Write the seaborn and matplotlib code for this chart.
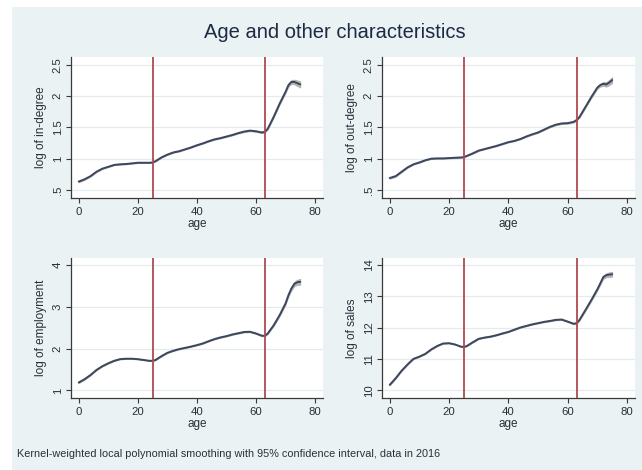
import seaborn as sns
import pandas as pd
import matplotlib.pyplot as plt
from matplotlib.patches import Rectangle

# values (smoothed curve, 95% CI half-width)
ages = [0, 2, 4, 6, 8, 10, 12, 14, 16, 18, 20, 22, 24, 25, 26, 28, 30, 32, 34, 36, 38,
        40, 42, 44, 46, 48, 50, 52, 54, 56, 58, 60, 62, 63, 64, 66, 68, 70, 71, 72, 73, 74, 75]

in_degree = [0.633, 0.67, 0.72, 0.79, 0.84, 0.87, 0.90, 0.91, 0.915, 0.925, 0.935, 0.935, 0.935,
             0.94, 0.96, 1.02, 1.065, 1.10, 1.12, 1.15, 1.18, 1.215, 1.245, 1.28, 1.31, 1.33,
             1.355, 1.38, 1.41, 1.435, 1.45, 1.44, 1.42, 1.43, 1.48, 1.67, 1.88, 2.07, 2.18,
             2.23, 2.23, 2.21, 2.19]
in_degree_ci = [0.012, 0.01, 0.008, 0.007, 0.006, 0.006, 0.006, 0.006, 0.006, 0.006, 0.006, 0.006, 0.006,
                0.006, 0.006, 0.006, 0.006, 0.006, 0.006, 0.006, 0.006, 0.006, 0.006, 0.007, 0.007, 0.007,
                0.007, 0.008, 0.008, 0.009, 0.01, 0.01, 0.011, 0.012, 0.012, 0.014, 0.016, 0.02, 0.025,
                0.032, 0.038, 0.044, 0.05]

out_degree = [0.69, 0.72, 0.79, 0.86, 0.91, 0.94, 0.975, 1.0, 1.005, 1.005, 1.01, 1.015, 1.02,
              1.025, 1.045, 1.085, 1.13, 1.155, 1.18, 1.205, 1.235, 1.265, 1.285, 1.315, 1.355, 1.39,
              1.42, 1.465, 1.51, 1.545, 1.565, 1.57, 1.59, 1.62, 1.67, 1.83, 1.99, 2.14, 2.18,
              2.20, 2.19, 2.22, 2.26]
out_degree_ci = [0.012, 0.01, 0.008, 0.007, 0.006, 0.006, 0.006, 0.006, 0.006, 0.006, 0.006, 0.006, 0.006,
                 0.006, 0.006, 0.006, 0.006, 0.006, 0.006, 0.006, 0.006, 0.006, 0.006, 0.007, 0.007, 0.007,
                 0.007, 0.008, 0.008, 0.009, 0.01, 0.01, 0.011, 0.012, 0.012, 0.014, 0.016, 0.02, 0.025,
                 0.03, 0.036, 0.042, 0.048]

employment = [1.19, 1.27, 1.37, 1.49, 1.58, 1.65, 1.71, 1.75, 1.76, 1.76, 1.75, 1.73, 1.71,
              1.71, 1.73, 1.82, 1.90, 1.95, 1.99, 2.02, 2.05, 2.085, 2.125, 2.18, 2.23, 2.27,
              2.30, 2.34, 2.37, 2.40, 2.405, 2.365, 2.31, 2.31, 2.365, 2.56, 2.80, 3.08, 3.28,
              3.44, 3.55, 3.59, 3.60]
employment_ci = [0.015, 0.012, 0.01, 0.009, 0.008, 0.008, 0.008, 0.008, 0.008, 0.008, 0.008, 0.008, 0.008,
                 0.008, 0.008, 0.008, 0.008, 0.008, 0.008, 0.008, 0.008, 0.008, 0.009, 0.009, 0.009, 0.01,
                 0.01, 0.01, 0.011, 0.012, 0.013, 0.014, 0.015, 0.016, 0.017, 0.02, 0.024, 0.03, 0.036,
                 0.045, 0.055, 0.062, 0.07]

sales = [10.17, 10.38, 10.62, 10.82, 11.0, 11.07, 11.16, 11.30, 11.41, 11.49, 11.50, 11.46, 11.39,
         11.38, 11.41, 11.53, 11.64, 11.68, 11.71, 11.755, 11.81, 11.86, 11.93, 12.0, 12.05, 12.10,
         12.14, 12.18, 12.21, 12.245, 12.255, 12.19, 12.12, 12.14, 12.245, 12.56, 12.88, 13.22, 13.41,
         13.61, 13.67, 13.69, 13.70]
sales_ci = [0.02, 0.016, 0.013, 0.012, 0.011, 0.01, 0.01, 0.01, 0.01, 0.01, 0.01, 0.01, 0.01,
            0.01, 0.01, 0.01, 0.01, 0.01, 0.01, 0.01, 0.01, 0.01, 0.011, 0.011, 0.011, 0.012,
            0.012, 0.013, 0.014, 0.015, 0.016, 0.017, 0.019, 0.02, 0.021, 0.025, 0.03, 0.038, 0.045,
            0.055, 0.065, 0.072, 0.08]

cutoffs = [25, 63]

panels = [
    ('log of in-degree', in_degree, in_degree_ci, [0.5, 1, 1.5, 2, 2.5], ['.5', '1', '1.5', '2', '2.5'], (0.37, 2.63)),
    ('log of out-degree', out_degree, out_degree_ci, [0.5, 1, 1.5, 2, 2.5], ['.5', '1', '1.5', '2', '2.5'], (0.37, 2.63)),
    ('log of employment', employment, employment_ci, [1, 2, 3, 4], ['1', '2', '3', '4'], (0.82, 4.17)),
    ('log of sales', sales, sales_ci, [10, 11, 12, 13, 14], ['10', '11', '12', '13', '14'], (9.75, 14.22)),
]

W, H = 642, 470
# axes boxes in pixels: left, top, right, bottom
boxes = [(71, 57, 323, 198), (382, 57, 635, 198), (71, 258, 323, 398), (382, 258, 635, 398)]

sns.set_theme(style='white')
plt.rcParams['font.family'] = ['Liberation Sans', 'DejaVu Sans']

bg = '#eaf2f3'
line_col = '#3b475c'
red_col = '#b04a50'
txt_col = '#2a2f3a'

fig = plt.figure(figsize=(W / 100, H / 100), dpi=100)
fig.patch.set_facecolor('white')
fig.add_artist(Rectangle((12 / W, 0), 1 - 12 / W, 1 - 7 / H, transform=fig.transFigure,
                         facecolor=bg, edgecolor='none', zorder=0))

for (ylab, vals, ci, yt, ytl, ylim), (l, t, r, b) in zip(panels, boxes):
    ax = fig.add_axes([l / W, 1 - b / H, (r - l) / W, (b - t) / H])
    ax.set_facecolor('white')
    df = pd.DataFrame({'age': ages, 'val': vals, 'ci': ci})
    ax.fill_between(df['age'], df['val'] - df['ci'], df['val'] + df['ci'],
                    color='#8c8c8c', alpha=0.6, lw=0.6, zorder=2)
    sns.lineplot(data=df, x='age', y='val', ax=ax, color=line_col, lw=1.4, zorder=3)
    for c in cutoffs:
        ax.axvline(c, color=red_col, lw=1.3, zorder=4)

    ax.set_xlim(-2.6, 82.7)
    ax.set_ylim(*ylim)
    ax.set_xticks([0, 20, 40, 60, 80])
    ax.set_yticks(yt)
    ax.set_yticklabels(ytl, rotation=90, va='center')
    ax.grid(axis='y', color='#e4ebed', lw=0.9)
    ax.grid(axis='x', visible=False)
    for s in ['top', 'right']:
        ax.spines[s].set_visible(False)
    for s in ['left', 'bottom']:
        ax.spines[s].set_color('#3a3a3a')
        ax.spines[s].set_linewidth(0.9)
    ax.tick_params(axis='both', direction='out', length=3.5, width=0.8, color='#3a3a3a',
                   labelsize=8.2, labelcolor=txt_col, left=True, bottom=True)
    ax.tick_params(axis='y', pad=2.5)
    ax.tick_params(axis='x', pad=3)
    ax.set_xlabel('age', fontsize=8.5, color=txt_col, labelpad=1)
    ax.set_ylabel(ylab, fontsize=8.5, color=txt_col, labelpad=4)

fig.text(335 / W, 1 - 32 / H, 'Age and other characteristics', ha='center', va='center',
         fontsize=14.5, color='#1e2a44')
fig.text(17 / W, 1 - 454 / H,
         'Kernel-weighted local polynomial smoothing with 95% confidence interval, data in 2016',
         ha='left', va='center', fontsize=7.8, color=txt_col)

plt.savefig('out.png', dpi=100)
plt.close()
